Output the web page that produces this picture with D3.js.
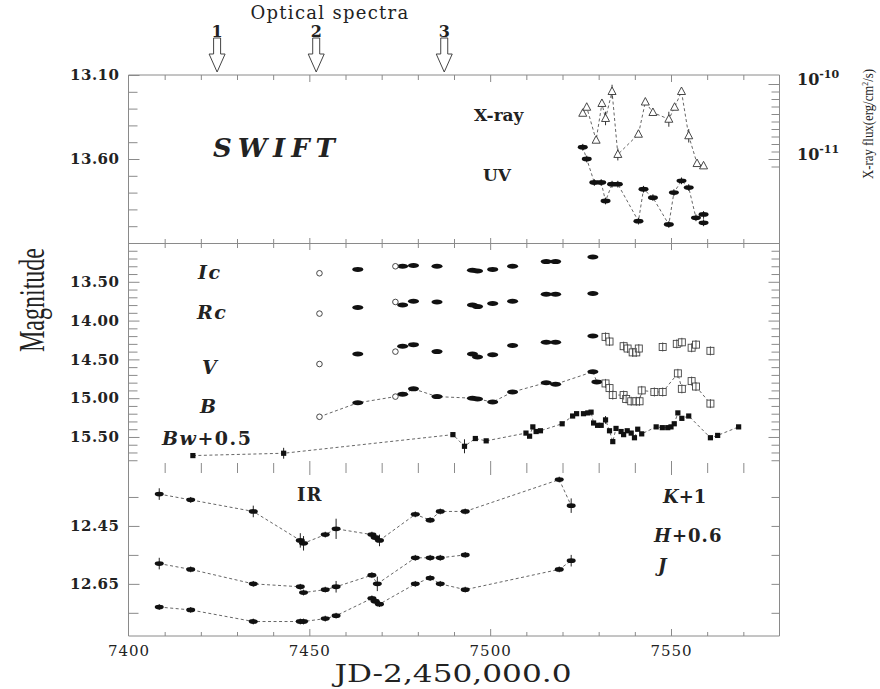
<!DOCTYPE html>
<html>
<head>
<meta charset="utf-8">
<script src="https://cdn.jsdelivr.net/npm/d3@7"></script>
<style>
  body { margin: 0; background: #fff; }
  svg { display: block; }
  .ax line { stroke: #8a8a8a; stroke-width: 1; }
  .ax text { font-family: 'DejaVu Serif', serif; fill: #222; }
</style>
</head>
<body>
<div id="chart"></div>
<script>
// ---- data ----
const specJD = [7424.5, 7451.9, 7487.3];
const specNum = ["1", "2", "3"];

// Swift X-ray flux (erg/cm^2/s), errors in dex
const xrJD = [7525.6, 7526.7, 7529.3, 7530.9, 7531.9, 7533.7, 7535.3, 7541.0, 7542.9, 7545.0, 7549.4, 7551.0, 7552.9, 7554.9, 7557.2, 7559.0];
const xrFlux = [4.07e-11, 4.9e-11, 1.78e-11, 5.5e-11, 3.47e-11, 7.94e-11, 1.15e-11, 2.14e-11, 5.75e-11, 4.17e-11, 3.39e-11, 4.9e-11, 7.94e-11, 2.04e-11, 0.87e-11, 0.81e-11];
const xrErr = [0.02, 0.04, 0.03, 0.05, 0.09, 0.09, 0.08, 0.03, 0.03, 0.03, 0.1, 0.03, 0.03, 0.09, 0.02, 0.02];

// Swift UV magnitudes
const uvJD = [7525.6, 7526.7, 7528.8, 7530.7, 7531.9, 7533.7, 7535.3, 7541.0, 7542.4, 7545.0, 7549.4, 7550.8, 7552.9, 7554.9, 7556.9, 7559.0, 7559.0];
const uvMag = [13.53, 13.60, 13.74, 13.74, 13.85, 13.75, 13.75, 13.97, 13.78, 13.83, 13.99, 13.80, 13.73, 13.77, 13.95, 13.93, 13.98];
const uvErr = [0.02, 0.02, 0.02, 0.02, 0.02, 0.02, 0.02, 0.02, 0.02, 0.02, 0.02, 0.02, 0.02, 0.02, 0.02, 0.02, 0.02];

// optical, filled symbols
const optJD = [7463.4, 7475.8, 7478.8, 7485.3, 7495.1, 7496.5, 7500.7, 7506.2, 7515.5, 7518.1, 7528.4];
const icMag = [13.34, 13.30, 13.29, 13.30, 13.35, 13.36, 13.34, 13.30, 13.24, 13.24, 13.18];
const rcMag = [13.83, 13.80, 13.75, 13.76, 13.80, 13.82, 13.78, 13.75, 13.66, 13.66, 13.65];
const vMag = [14.43, 14.33, 14.31, 14.40, 14.43, 14.47, 14.44, 14.32, 14.28, 14.28, 14.20];
const bJD = [7463.4, 7475.8, 7478.8, 7485.3, 7495.1, 7496.5, 7500.7, 7506.2, 7515.5, 7518.1, 7528.4, 7529.5];
const bMag = [15.06, 14.95, 14.88, 14.98, 15.00, 15.01, 15.05, 14.92, 14.80, 14.82, 14.66, 14.79];

// optical, open circles
const openJD = [7452.8, 7473.8];
const icOpen = [13.39, 13.30];
const rcOpen = [13.91, 13.76];
const vOpen = [14.56, 14.40];
const bOpen = [15.24, 14.98];

// optical, open squares
const vSqJD = [7531.9, 7533.0, 7536.9, 7538.0, 7539.4, 7540.4, 7541.1, 7547.7, 7551.6, 7553.0, 7555.7, 7556.9, 7560.9];
const vSqMag = [14.21, 14.27, 14.33, 14.36, 14.41, 14.41, 14.36, 14.34, 14.30, 14.28, 14.35, 14.31, 14.39];
const bSqJD = [7531.9, 7533.0, 7533.9, 7536.9, 7537.6, 7539.0, 7540.4, 7541.3, 7541.9, 7545.4, 7547.7, 7551.9, 7553.0, 7555.7, 7556.9, 7560.9];
const bSqMag = [14.81, 14.87, 14.96, 14.96, 15.01, 15.04, 15.04, 15.04, 14.90, 14.92, 14.92, 14.68, 14.88, 14.78, 14.85, 15.07];

// Bw + 0.5
const bwJD = [7417.8, 7442.9, 7489.7, 7492.9, 7495.9, 7498.9, 7509.9, 7510.9, 7511.8, 7512.7, 7513.9, 7519.9, 7522.8, 7523.9, 7525.8, 7527.0, 7527.9, 7528.6, 7529.7, 7530.7, 7531.9, 7533.0, 7533.9, 7534.8, 7536.2, 7536.9, 7537.9, 7539.0, 7539.9, 7540.8, 7541.9, 7545.9, 7547.6, 7549.1, 7550.0, 7550.9, 7551.9, 7553.0, 7554.9, 7560.9, 7562.9, 7568.7];
const bwMag = [15.74, 15.71, 15.47, 15.62, 15.52, 15.55, 15.45, 15.49, 15.37, 15.43, 15.42, 15.33, 15.23, 15.20, 15.20, 15.19, 15.18, 15.32, 15.35, 15.35, 15.28, 15.42, 15.56, 15.39, 15.43, 15.47, 15.42, 15.45, 15.51, 15.40, 15.46, 15.37, 15.38, 15.38, 15.37, 15.33, 15.19, 15.26, 15.23, 15.51, 15.48, 15.37];
const bwErr = [0, 0.07, 0, 0.09, 0.02, 0, 0.02, 0, 0, 0, 0, 0, 0, 0, 0, 0, 0, 0, 0, 0, 0.05, 0, 0.02, 0, 0, 0, 0, 0, 0, 0.02, 0.02, 0, 0, 0, 0, 0, 0, 0, 0, 0, 0, 0];

// near-IR
const kJD = [7408.5, 7417.2, 7434.5, 7447.5, 7448.4, 7454.4, 7457.4, 7467.3, 7468.2, 7469.4, 7479.3, 7483.4, 7486.2, 7493.1, 7519.1, 7522.4];
const kMag = [12.34, 12.36, 12.40, 12.50, 12.51, 12.48, 12.46, 12.48, 12.49, 12.50, 12.41, 12.43, 12.40, 12.40, 12.29, 12.38];
const kErr = [0.02, 0.01, 0.02, 0.025, 0.025, 0.01, 0.035, 0.01, 0.01, 0.02, 0.01, 0.01, 0.01, 0.01, 0.01, 0.025];
const hJD = [7408.5, 7417.2, 7434.5, 7447.5, 7448.4, 7454.4, 7457.4, 7467.3, 7468.8, 7479.3, 7483.4, 7486.2, 7493.1];
const hMag = [12.58, 12.60, 12.65, 12.66, 12.68, 12.67, 12.66, 12.62, 12.65, 12.56, 12.56, 12.56, 12.55];
const hErr = [0.02, 0.01, 0.01, 0.01, 0.01, 0.01, 0.02, 0.01, 0.025, 0.01, 0.01, 0.01, 0.01];
const jJD = [7408.5, 7417.2, 7434.5, 7447.5, 7448.4, 7454.4, 7457.4, 7467.3, 7468.2, 7469.4, 7479.3, 7483.4, 7486.2, 7493.1, 7519.1, 7522.4];
const jMag = [12.73, 12.74, 12.78, 12.78, 12.78, 12.77, 12.76, 12.70, 12.71, 12.72, 12.65, 12.63, 12.65, 12.67, 12.60, 12.57];
const jErr = [0.01, 0.01, 0.01, 0.01, 0.01, 0.01, 0.01, 0.01, 0.01, 0.01, 0.01, 0.01, 0.01, 0.01, 0.01, 0.02];

// tick labels
const xTickLabels = [7400, 7450, 7500, 7550];
const topTickLabels = [13.10, 13.60];
const midTickLabels = [13.50, 14.00, 14.50, 15.00, 15.50];
const botTickLabels = [12.45, 12.65];

// ---- chart ----
const width = 880, height = 689;
const serif = "'DejaVu Serif', serif";
const svg = d3.select("#chart").append("svg")
              .attr("width", width)
              .attr("height", height);

const left = 128.5, right = 779.5;
const x = d3.scaleLinear().domain([7400, 7580]).range([left, right]);
const yTop = d3.scaleLinear().domain([13.1, 14.1]).range([75, 243]);
const yMid = d3.scaleLinear().domain([13.0, 15.9]).range([243, 468]);
const yBot = d3.scaleLinear().domain([12.25, 12.83]).range([468, 636]);
const yFlux = d3.scaleLog().domain([1e-10, Math.pow(10, -11.12)]).range([84, 168]);

const zip = (a, b, e) => a.map((v, i) => ({jd: v, m: b[i], e: e ? e[i] : 0}));

// frame
const frame = svg.append("g").attr("stroke", "#8a8a8a").attr("stroke-width", 1).attr("fill", "none");
frame.append("path").attr("d", `M${left},75H${right}V636H${left}Z`);
frame.append("line").attr("x1", left).attr("x2", right).attr("y1", 243.5).attr("y2", 243.5);

function ticks(axisFn, scale, values, size, transform) {
  svg.append("g").attr("class", "ax").attr("transform", transform)
     .call(axisFn(scale).tickValues(values).tickSize(size).tickFormat(""))
     .call(g => g.select(".domain").remove());
}

// x ticks on every panel edge
const xMinor = d3.range(7410, 7580, 10).filter(v => v % 50 !== 0);
const xMajor = [7450, 7500, 7550];
ticks(d3.axisBottom, x, xMinor, 5, "translate(0,75)");
ticks(d3.axisBottom, x, xMajor, 7, "translate(0,75)");
ticks(d3.axisTop, x, xMinor, 4, "translate(0,243)");
ticks(d3.axisBottom, x, xMinor, 5, "translate(0,243)");
ticks(d3.axisTop, x, xMajor, 5, "translate(0,243)");
ticks(d3.axisBottom, x, xMajor, 7, "translate(0,243)");
ticks(d3.axisTop, x, xMinor, 5, "translate(0,468)");
ticks(d3.axisBottom, x, xMinor, 5, "translate(0,468)");
ticks(d3.axisTop, x, xMajor, 7, "translate(0,468)");
ticks(d3.axisBottom, x, xMajor, 7, "translate(0,468)");
ticks(d3.axisTop, x, xMinor, 4, "translate(0,636)");
ticks(d3.axisTop, x, xMajor, 7, "translate(0,636)");

svg.append("g").attr("class", "ax").attr("transform", "translate(0,636)")
   .call(d3.axisBottom(x).tickValues(xTickLabels).tickSize(0).tickPadding(9).tickFormat(d3.format("d")))
   .call(g => g.select(".domain").remove())
   .selectAll("text").attr("font-size", 15).attr("letter-spacing", 1);

// left magnitude ticks
const tenths = (a, b) => d3.range(Math.round(a * 10), Math.round(b * 10) + 1).map(v => v / 10);
const notIn = (arr) => (v) => !arr.some(t => Math.abs(t - v) < 1e-6);
ticks(d3.axisLeft, yTop, tenths(13.2, 14.0).filter(notIn(topTickLabels)), -9, `translate(${left},0)`);
ticks(d3.axisLeft, yMid, tenths(13.1, 15.8).filter(notIn(midTickLabels)), -9, `translate(${left},0)`);
ticks(d3.axisLeft, yBot, [12.35, 12.55, 12.75], -10, `translate(${left},0)`);

function leftLabels(scale, values) {
  svg.append("g").attr("class", "ax").attr("transform", `translate(${left},0)`)
     .call(d3.axisLeft(scale).tickValues(values).tickSize(-11).tickPadding(9).tickFormat(d3.format(".2f")))
     .call(g => g.select(".domain").remove())
     .selectAll("text").attr("font-size", 15).attr("font-weight", "bold").attr("letter-spacing", 0.5);
}
leftLabels(yTop, topTickLabels);
leftLabels(yMid, midTickLabels);
leftLabels(yBot, botTickLabels);

// right ticks
ticks(d3.axisRight, yMid, tenths(13.1, 15.8).filter(notIn(midTickLabels)), -8, `translate(${right},0)`);
ticks(d3.axisRight, yMid, midTickLabels, -11, `translate(${right},0)`);
ticks(d3.axisRight, yBot, [12.35, 12.45, 12.55, 12.65, 12.75], -8, `translate(${right},0)`);

// X-ray flux axis (log, subdivided in tenths of a decade)
const fluxExp = tenths(-11.1, -10).filter(v => v !== -10 && v !== -11);
ticks(d3.axisRight, yFlux, fluxExp.map(e => Math.pow(10, e)), -8, `translate(${right},0)`);
ticks(d3.axisRight, yFlux, [1e-10, 1e-11], -11, `translate(${right},0)`);
[[1e-10, "-10"], [1e-11, "-11"]].forEach(([v, s]) => {
  const t = svg.append("text").attr("x", 797).attr("y", yFlux(v) + 1)
     .attr("font-family", serif).attr("font-weight", "bold").attr("font-size", 16).attr("fill", "#222");
  t.append("tspan").text("10");
  t.append("tspan").attr("dy", -7).attr("font-size", 11).text(s);
});
const fl = svg.append("text").attr("transform", "translate(873,124)rotate(-90)")
   .attr("text-anchor", "middle").attr("font-family", "'Liberation Serif', serif")
   .attr("font-size", 15).attr("fill", "#222")
   .attr("textLength", 110).attr("lengthAdjust", "spacingAndGlyphs");
fl.append("tspan").text("X-ray flux(erg/cm");
fl.append("tspan").attr("dy", -5).attr("font-size", 9).text("2");
fl.append("tspan").attr("dy", 5).text("/s)");

// axis titles
svg.append("text").attr("transform", "translate(44,300)rotate(-90)")
   .attr("text-anchor", "middle").attr("font-family", "'Liberation Serif', serif")
   .attr("font-size", 36).attr("fill", "#222")
   .attr("textLength", 104).attr("lengthAdjust", "spacingAndGlyphs")
   .text("Magnitude");
svg.append("text").attr("x", 453).attr("y", 682)
   .attr("text-anchor", "middle").attr("font-family", serif)
   .attr("font-size", 24).attr("fill", "#222")
   .attr("textLength", 237).attr("lengthAdjust", "spacingAndGlyphs")
   .text("JD-2,450,000.0");

// optical spectra arrows
svg.append("text").attr("x", 330).attr("y", 19).attr("text-anchor", "middle")
   .attr("font-family", serif).attr("font-size", 18).attr("letter-spacing", 1.3).attr("fill", "#222")
   .text("Optical spectra");
specJD.forEach((d, i) => {
  const cx = x(d);
  svg.append("text").attr("x", cx).attr("y", 37).attr("text-anchor", "middle")
     .attr("font-family", serif).attr("font-weight", "bold").attr("font-size", 16).attr("fill", "#222")
     .text(specNum[i]);
  svg.append("path")
     .attr("d", `M${cx - 3.5},38H${cx + 3.5}V54H${cx + 8}L${cx},72L${cx - 8},54H${cx - 3.5}Z`)
     .attr("fill", "#fff").attr("stroke", "#444").attr("stroke-width", 1);
});

// ---- marks ----
const dash = (data, ys) => svg.append("path")
   .attr("d", d3.line().x(d => x(d.jd)).y(d => ys(d.m))(data))
   .attr("fill", "none").attr("stroke", "#555").attr("stroke-width", 0.9).attr("stroke-dasharray", "3,2.5");

function errBars(data, ys) {
  svg.append("g").attr("stroke", "#222").attr("stroke-width", 1)
     .selectAll("line").data(data.filter(d => d.e > 0)).join("line")
     .attr("x1", d => x(d.jd)).attr("x2", d => x(d.jd))
     .attr("y1", d => ys(d.m - d.e)).attr("y2", d => ys(d.m + d.e));
}
function ellipses(data, ys, rx, ry) {
  errBars(data, ys);
  svg.append("g").attr("fill", "#111")
     .selectAll("ellipse").data(data).join("ellipse")
     .attr("cx", d => x(d.jd)).attr("cy", d => ys(d.m))
     .attr("rx", rx).attr("ry", ry);
}
function circles(data, ys) {
  svg.append("g").attr("fill", "#fff").attr("stroke", "#333").attr("stroke-width", 0.9)
     .selectAll("circle").data(data).join("circle")
     .attr("cx", d => x(d.jd)).attr("cy", d => ys(d.m)).attr("r", 2.8);
}
function openSquares(data, ys) {
  const g = svg.append("g").attr("fill", "#fff").attr("stroke", "#444").attr("stroke-width", 0.9);
  g.selectAll("rect").data(data).join("rect")
   .attr("x", d => x(d.jd) - 3.5).attr("y", d => ys(d.m) - 3.5).attr("width", 7).attr("height", 7);
  g.selectAll("line").data(data).join("line")
   .attr("x1", d => x(d.jd)).attr("x2", d => x(d.jd))
   .attr("y1", d => ys(d.m) - 4.5).attr("y2", d => ys(d.m) + 4.5);
}
function filledSquares(data, ys) {
  errBars(data, ys);
  svg.append("g").attr("fill", "#111")
     .selectAll("rect").data(data).join("rect")
     .attr("x", d => x(d.jd) - 2.6).attr("y", d => ys(d.m) - 2.6).attr("width", 5.2).attr("height", 5.2);
}

// top panel: X-ray (log flux) and UV
const xr = xrJD.map((v, i) => ({jd: v, f: xrFlux[i], e: xrErr[i]}));
svg.append("path")
   .attr("d", d3.line().x(d => x(d.jd)).y(d => yFlux(d.f))(xr))
   .attr("fill", "none").attr("stroke", "#555").attr("stroke-width", 0.9).attr("stroke-dasharray", "3,2.5");
svg.append("g").attr("stroke", "#333").attr("stroke-width", 1)
   .selectAll("line").data(xr).join("line")
   .attr("x1", d => x(d.jd)).attr("x2", d => x(d.jd))
   .attr("y1", d => yFlux(d.f * Math.pow(10, d.e))).attr("y2", d => yFlux(d.f / Math.pow(10, d.e)));
svg.append("g").attr("fill", "#fff").attr("stroke", "#333").attr("stroke-width", 0.9)
   .selectAll("path").data(xr).join("path")
   .attr("d", d => { const cx = x(d.jd), cy = yFlux(d.f); return `M${cx},${cy - 4.5}L${cx + 4},${cy + 3}L${cx - 4},${cy + 3}Z`; });

const uv = zip(uvJD, uvMag, uvErr);
dash(uv, yTop);
ellipses(uv, yTop, 5, 2.4);

// middle panel
ellipses(zip(optJD, icMag), yMid, 5.5, 2.5);
ellipses(zip(optJD, rcMag), yMid, 5.5, 2.5);
ellipses(zip(optJD, vMag), yMid, 5.5, 2.5);
const bAll = zip(bJD, bMag).concat(zip(openJD, bOpen), zip(bSqJD, bSqMag)).sort((a, b) => a.jd - b.jd);
dash(bAll, yMid);
ellipses(zip(bJD, bMag), yMid, 5.5, 2.5);
circles(zip(openJD, icOpen), yMid);
circles(zip(openJD, rcOpen), yMid);
circles(zip(openJD, vOpen), yMid);
circles(zip(openJD, bOpen), yMid);
openSquares(zip(vSqJD, vSqMag), yMid);
openSquares(zip(bSqJD, bSqMag), yMid);
const bw = zip(bwJD, bwMag, bwErr);
dash(bw, yMid);
filledSquares(bw, yMid);

// bottom panel (IR)
const kd = zip(kJD, kMag, kErr), hd = zip(hJD, hMag, hErr), jd = zip(jJD, jMag, jErr);
[kd, hd, jd].forEach(s => { dash(s, yBot); ellipses(s, yBot, 4.5, 2.4); });

// ---- text labels ----
function label(xp, yp, parts, size, spacing) {
  const t = svg.append("text").attr("x", xp).attr("y", yp)
     .attr("font-family", serif).attr("font-weight", "bold")
     .attr("font-size", size || 18).attr("letter-spacing", spacing || 0).attr("fill", "#222");
  parts.forEach(([s, it]) => t.append("tspan").attr("font-style", it ? "italic" : "normal").text(s));
}
label(213, 157, [["SWIFT", true]], 26, 6);
label(474, 121, [["X-ray", false]], 17);
label(483, 181, [["UV", false]], 17);
label(198, 279, [["Ic", true]], 19, 1.5);
label(197, 319, [["Rc", true]], 19, 1.5);
label(202, 374, [["V", true]], 19);
label(200, 413, [["B", true]], 19);
label(162, 445, [["Bw", true], ["+0.5", false]], 19, 1.5);
label(297, 501, [["IR", false]], 18, 1);
label(663, 503, [["K", true], ["+1", false]], 18);
label(654, 542, [["H", true], ["+0.6", false]], 18, 1);
label(658, 572, [["J", true]], 18);
</script>
</body>
</html>
